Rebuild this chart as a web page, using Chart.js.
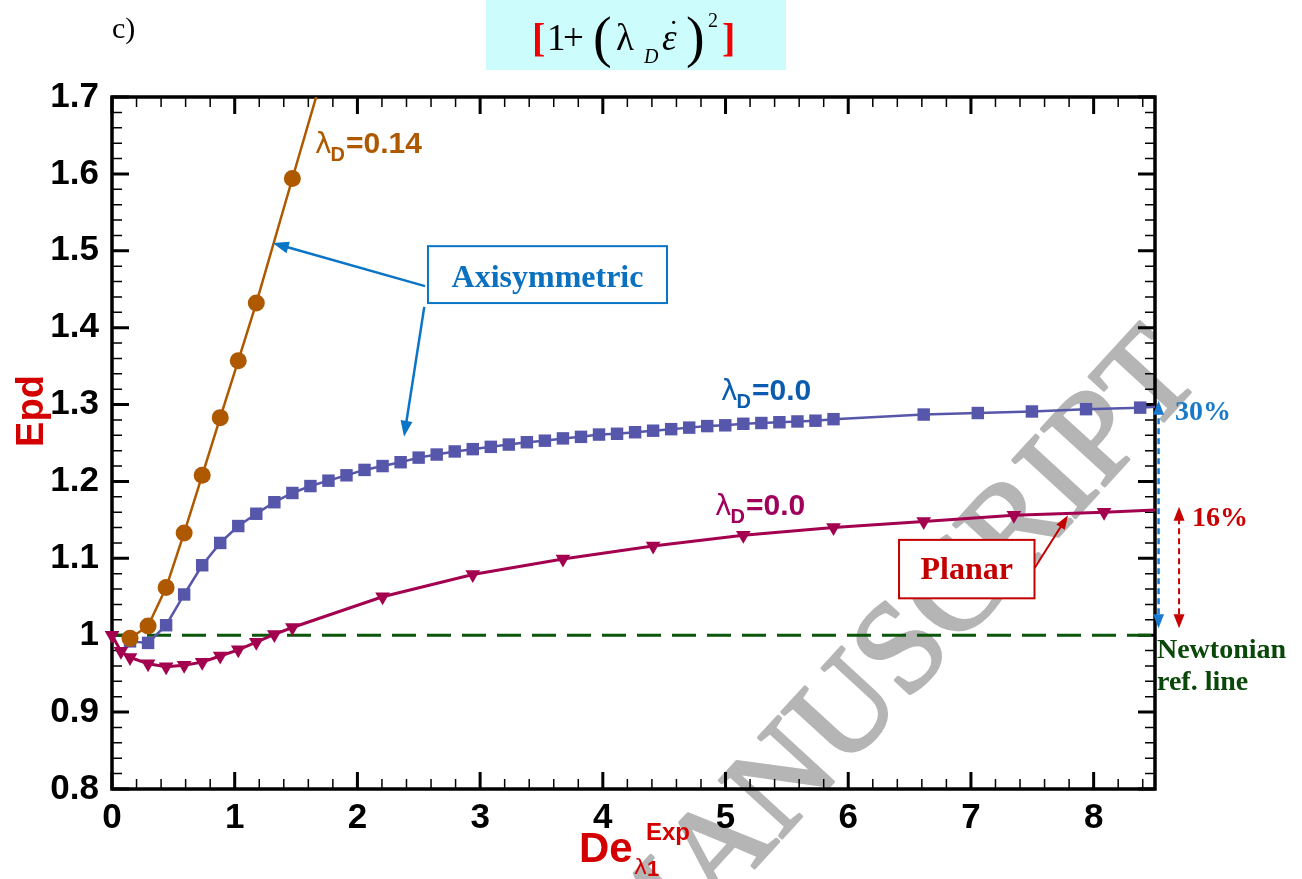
<!DOCTYPE html>
<html>
<head>
<meta charset="utf-8">
<title>Epd vs De</title>
<script src="https://cdn.jsdelivr.net/npm/chart.js@4.4.1/dist/chart.umd.min.js"></script>
<style>
  html, body { margin: 0; padding: 0; background: #fff; }
  #wrap { position: relative; width: 1302px; height: 879px; overflow: hidden; }
  #plot { position: absolute; left: 0; top: 0; }
</style>
</head>
<body>
<div id="wrap">
  <canvas id="plot" width="1302" height="879"></canvas>
</div>
<script>
/* ── axes ─────────────────────────────────────────────── */
const xMin = 0, xMax = 8.5;
const yMin = 0.8, yMax = 1.7;
const xTicks = [0, 1, 2, 3, 4, 5, 6, 7, 8];
const yTicks = [0.8, 0.9, 1.0, 1.1, 1.2, 1.3, 1.4, 1.5, 1.6, 1.7];

/* ── data ─────────────────────────────────────────────── */
// Newtonian reference
const refX = [0, 8.5];
const refY = [1, 1];

// Axisymmetric, lambda_D = 0.14 (circles) - last point runs off the top
const axi14X = [0.147, 0.294, 0.441, 0.588, 0.735, 0.882, 1.029, 1.176, 1.470, 1.764];
const axi14Y = [0.996, 1.012, 1.062, 1.133, 1.208, 1.283, 1.357, 1.432, 1.594, 1.755];

// Axisymmetric, lambda_D = 0.0 (squares) - last value is the line end at the frame
const axi0X = [0.147, 0.294, 0.441, 0.588, 0.735, 0.882, 1.029, 1.176, 1.323, 1.470,
               1.617, 1.764, 1.911, 2.058, 2.205, 2.352, 2.499, 2.646, 2.793, 2.940,
               3.087, 3.234, 3.381, 3.528, 3.675, 3.822, 3.969, 4.116, 4.263, 4.410,
               4.557, 4.704, 4.851, 4.998, 5.145, 5.292, 5.439, 5.586, 5.733, 5.880,
               6.615, 7.056, 7.497, 7.938, 8.379, 8.500];
const axi0Y = [0.992, 0.990, 1.013, 1.053, 1.091, 1.120, 1.142, 1.158, 1.173, 1.185,
               1.194, 1.201, 1.208, 1.215, 1.220, 1.225, 1.231, 1.235, 1.239, 1.242,
               1.245, 1.248, 1.251, 1.253, 1.256, 1.258, 1.261, 1.262, 1.264, 1.266,
               1.268, 1.270, 1.272, 1.273, 1.275, 1.276, 1.277, 1.278, 1.279, 1.281,
               1.287, 1.289, 1.291, 1.294, 1.296, 1.297];

// Planar, lambda_D = 0.0 (down triangles) - last value is the line end at the frame
const pla0X = [0, 0.073, 0.147, 0.294, 0.441, 0.588, 0.735, 0.882, 1.029, 1.176, 1.323,
               1.470, 2.205, 2.940, 3.675, 4.410, 5.145, 5.880, 6.615, 7.350, 8.085, 8.500];
const pla0Y = [1.000, 0.979, 0.971, 0.963, 0.959, 0.961, 0.965, 0.973, 0.981, 0.991, 1.001,
               1.010, 1.050, 1.079, 1.099, 1.116, 1.130, 1.140, 1.148, 1.156, 1.160, 1.163];

const pts = (xs, ys) => xs.map((x, i) => ({ x, y: ys[i] }));
// no marker on the end-of-line values sitting on the right frame
const markerSize = (r) => (c) => (c.raw && c.raw.x >= xMax ? 0 : r);

const SANS = '"Liberation Sans", Arial, sans-serif';
const SERIF = '"Liberation Serif", "Times New Roman", serif';

/* ── helpers ──────────────────────────────────────────── */
function arrowHead(ctx, x1, y1, x2, y2, len, half, color) {
  const ang = Math.atan2(y2 - y1, x2 - x1);
  ctx.save();
  ctx.fillStyle = color;
  ctx.translate(x2, y2);
  ctx.rotate(ang);
  ctx.beginPath();
  ctx.moveTo(0, 0);
  ctx.lineTo(-len, -half);
  ctx.lineTo(-len, half);
  ctx.closePath();
  ctx.fill();
  ctx.restore();
}

function arrow(ctx, x1, y1, x2, y2, o) {
  const ang = Math.atan2(y2 - y1, x2 - x1);
  ctx.save();
  ctx.strokeStyle = o.color;
  ctx.lineWidth = o.width;
  if (o.dash) ctx.setLineDash(o.dash);
  ctx.beginPath();
  ctx.moveTo(o.both ? x1 + Math.cos(ang) * o.len : x1, o.both ? y1 + Math.sin(ang) * o.len : y1);
  ctx.lineTo(x2 - Math.cos(ang) * o.len * 0.8, y2 - Math.sin(ang) * o.len * 0.8);
  ctx.stroke();
  ctx.restore();
  arrowHead(ctx, x1, y1, x2, y2, o.len, o.half, o.color);
  if (o.both) arrowHead(ctx, x2, y2, x1, y1, o.len, o.half, o.color);
}

function lambdaLabel(ctx, px, py, value, color) {
  ctx.save();
  ctx.fillStyle = color;
  ctx.textAlign = 'left';
  ctx.textBaseline = 'alphabetic';
  ctx.font = '28px "DejaVu Sans", sans-serif';
  ctx.fillText('λ', px, py);
  let w = ctx.measureText('λ').width;
  ctx.font = 'bold 20px ' + SANS;
  ctx.fillText('D', px + w - 1, py + 8);
  w += ctx.measureText('D').width;
  ctx.font = 'bold 30px ' + SANS;
  ctx.fillText('=' + value, px + w, py);
  ctx.restore();
}

function boxLabel(ctx, x1, y1, x2, y2, text, tx, ty, color, border) {
  ctx.save();
  ctx.fillStyle = '#fff';
  ctx.fillRect(x1, y1, x2 - x1, y2 - y1);
  ctx.strokeStyle = border;
  ctx.lineWidth = 2;
  ctx.strokeRect(x1, y1, x2 - x1, y2 - y1);
  ctx.fillStyle = color;
  ctx.font = 'bold 32px ' + SERIF;
  ctx.textAlign = 'center';
  ctx.fillText(text, tx, ty);
  ctx.restore();
}

/* ── plugins ──────────────────────────────────────────── */
const watermark = {
  id: 'watermark',
  beforeDraw(chart) {
    const ctx = chart.ctx;
    ctx.save();
    ctx.fillStyle = '#b5b5b5';
    ctx.strokeStyle = '#b5b5b5';
    ctx.lineWidth = 3;
    ctx.lineJoin = 'round';
    ctx.font = '130px ' + SERIF;
    ctx.translate(716, 910);
    ctx.rotate(-47.5 * Math.PI / 180);
    ctx.textAlign = 'right';
    ctx.fillText('M', 0, 0);
    ctx.strokeText('M', 0, 0);
    ctx.textAlign = 'left';
    ctx.fillText('ANUSCRIPT', 0, 0);
    ctx.strokeText('ANUSCRIPT', 0, 0);
    ctx.restore();
  }
};

const frame = {
  id: 'frame',
  beforeDatasetsDraw(chart) {
    const { ctx, chartArea: a, scales: { x, y } } = chart;
    ctx.save();
    ctx.strokeStyle = '#000';
    ctx.lineCap = 'butt';
    const vTick = (px, len) => {
      ctx.beginPath();
      ctx.moveTo(px, a.bottom); ctx.lineTo(px, a.bottom - len);
      ctx.moveTo(px, a.top); ctx.lineTo(px, a.top + len);
      ctx.stroke();
    };
    const hTick = (py, len) => {
      ctx.beginPath();
      ctx.moveTo(a.left, py); ctx.lineTo(a.left + len, py);
      ctx.moveTo(a.right, py); ctx.lineTo(a.right - len, py);
      ctx.stroke();
    };
    ctx.lineWidth = 1.5;
    for (let i = 0; i <= 42; i++) vTick(x.getPixelForValue(i * 0.2), 10);
    for (let i = 0; i <= 45; i++) hTick(y.getPixelForValue(yMin + i * 0.02), 10);
    ctx.lineWidth = 3;
    xTicks.forEach(v => vTick(x.getPixelForValue(v), 17));
    yTicks.forEach(v => hTick(y.getPixelForValue(v), 17));
    ctx.lineWidth = 3.5;
    ctx.strokeRect(a.left, a.top, a.right - a.left, a.bottom - a.top);
    ctx.restore();
  }
};

const notes = {
  id: 'notes',
  afterDatasetsDraw(chart) {
    const { ctx, scales: { x, y } } = chart;
    const X = v => x.getPixelForValue(v);
    const Y = v => y.getPixelForValue(v);

    // curve labels
    lambdaLabel(ctx, X(1.654), Y(1.627), '0.14', '#ae5800');
    lambdaLabel(ctx, X(4.963), Y(1.306), '0.0', '#0b5cae');
    lambdaLabel(ctx, X(4.914), Y(1.156), '0.0', '#a0005a');

    // Axisymmetric callout
    const blue = '#0a74c6';
    arrow(ctx, X(2.551), Y(1.454), X(1.310), Y(1.510), { color: blue, width: 2.5, len: 16, half: 6 });
    arrow(ctx, X(2.545), Y(1.427), X(2.380), Y(1.258), { color: blue, width: 2.5, len: 16, half: 6 });
    boxLabel(ctx, X(2.575), Y(1.506), X(4.523), Y(1.432), 'Axisymmetric', X(3.549), Y(1.453), '#0a70c0', blue);

    // Planar callout
    const red = '#c40000';
    arrow(ctx, X(7.518), Y(1.087), X(7.791), Y(1.156), { color: red, width: 2, len: 14, half: 5 });
    boxLabel(ctx, X(6.414), Y(1.124), X(7.518), Y(1.048), 'Planar', X(6.966), Y(1.073), red, red);

    // percentage arrows on the right
    arrow(ctx, X(8.529), Y(1.009), X(8.529), Y(1.305),
      { color: '#1a7ad0', width: 2.5, len: 14, half: 5.5, dash: [6, 4], both: true });
    arrow(ctx, X(8.696), Y(1.009), X(8.696), Y(1.167),
      { color: '#c80000', width: 2, len: 14, half: 5.5, dash: [6, 4], both: true });

    ctx.save();
    ctx.textAlign = 'left';
    ctx.font = 'bold 28px ' + SERIF;
    ctx.fillStyle = '#1a7ac8';
    ctx.fillText('30%', X(8.663), Y(1.280));
    ctx.fillStyle = '#c80000';
    ctx.fillText('16%', X(8.801), Y(1.142));
    ctx.fillStyle = '#0a480a';
    ctx.fillText('Newtonian', X(8.516), Y(0.970));
    ctx.fillText('ref. line', X(8.516), Y(0.929));
    ctx.restore();

    // axis titles
    ctx.save();
    ctx.fillStyle = '#d40000';
    ctx.translate(43, 411);
    ctx.rotate(-Math.PI / 2);
    ctx.textAlign = 'center';
    ctx.font = 'bold 38px ' + SANS;
    ctx.fillText('Epd', 0, 0);
    ctx.restore();

    ctx.save();
    ctx.fillStyle = '#d40000';
    ctx.textAlign = 'left';
    ctx.font = 'bold 42px ' + SANS;
    ctx.fillText('De', 579, 862);
    ctx.font = 'bold 24px ' + SANS;
    ctx.fillText('Exp', 646, 840);
    ctx.font = '22px "DejaVu Sans", sans-serif';
    ctx.fillText('λ', 634, 874);
    ctx.font = 'bold 22px ' + SANS;
    ctx.fillText('1', 647, 876);
    ctx.restore();
  },
  afterDraw(chart) {
    const ctx = chart.ctx;
    ctx.save();
    ctx.textAlign = 'left';
    ctx.textBaseline = 'alphabetic';
    // panel tag
    ctx.fillStyle = '#000';
    ctx.font = '30px ' + SERIF;
    ctx.fillText('c)', 112, 38);
    // damping-function formula box
    ctx.fillStyle = '#ccfcfc';
    ctx.fillRect(486, 0, 300, 70);
    ctx.fillStyle = '#f00000';
    ctx.font = 'bold 40px ' + SERIF;
    ctx.fillText('[', 532, 51);
    ctx.fillText(']', 722, 51);
    ctx.fillStyle = '#000';
    ctx.font = '37px ' + SERIF;
    ctx.fillText('1', 547, 50);
    ctx.fillText('+', 563, 50);
    ctx.fillText('λ', 616, 50);
    ctx.font = '56px ' + SERIF;
    ctx.fillText('(', 593, 56);
    ctx.fillText(')', 686, 56);
    ctx.font = 'italic 20px ' + SERIF;
    ctx.fillText('D', 644, 63);
    ctx.font = 'italic 37px ' + SERIF;
    ctx.fillText('ε', 662, 50);
    ctx.font = 'bold 22px ' + SERIF;
    ctx.fillText('˙', 670, 36);
    ctx.font = '20px ' + SERIF;
    ctx.fillText('2', 708, 27);
    ctx.restore();
  }
};

/* ── chart ────────────────────────────────────────────── */
const tickFont = { family: '"Liberation Sans", Arial, sans-serif', size: 35, weight: 'bold' };

new Chart(document.getElementById('plot'), {
  type: 'scatter',
  data: {
    datasets: [
      {
        label: 'Newtonian ref. line',
        data: pts(refX, refY),
        showLine: true,
        borderColor: '#0c560c',
        borderWidth: 3,
        borderDash: [24, 11],
        pointRadius: 0,
        order: 4,
      },
      {
        label: 'Axisymmetric, λD=0.0',
        data: pts(axi0X, axi0Y),
        showLine: true,
        borderColor: '#5656ab',
        borderWidth: 2.5,
        pointStyle: 'rect',
        pointRadius: markerSize(8.8),
        pointBackgroundColor: '#5656ab',
        pointBorderColor: '#5656ab',
        pointBorderWidth: 0,
        clip: false,
        order: 3,
      },
      {
        label: 'Axisymmetric, λD=0.14',
        data: pts(axi14X, axi14Y),
        showLine: true,
        borderColor: '#ae5800',
        borderWidth: 2.5,
        pointStyle: 'circle',
        pointRadius: 8.5,
        pointBackgroundColor: '#ae5800',
        pointBorderColor: '#ae5800',
        pointBorderWidth: 0,
        clip: 0,
        order: 2,
      },
      {
        label: 'Planar, λD=0.0',
        data: pts(pla0X, pla0Y),
        showLine: true,
        borderColor: '#a3004f',
        borderWidth: 3,
        pointStyle: 'triangle',
        rotation: 180,
        pointRotation: 180,
        pointRadius: markerSize(8.5),
        pointBackgroundColor: '#a3004f',
        pointBorderColor: '#a3004f',
        pointBorderWidth: 0,
        clip: false,
        order: 1,
      },
    ],
  },
  options: {
    responsive: false,
    animation: false,
    events: [],
    layout: { padding: { top: 97, right: 147, left: 0, bottom: 0 } },
    plugins: {
      legend: { display: false },
      tooltip: { enabled: false },
    },
    scales: {
      x: {
        type: 'linear',
        min: xMin,
        max: xMax,
        afterBuildTicks: (s) => { s.ticks = xTicks.map(v => ({ value: v })); },
        afterFit: (s) => { s.height = 90; },
        grid: { display: false, drawTicks: false },
        border: { display: false },
        ticks: { font: tickFont, color: '#000', padding: 8, maxRotation: 0, autoSkip: false },
      },
      y: {
        type: 'linear',
        min: yMin,
        max: yMax,
        afterBuildTicks: (s) => { s.ticks = yTicks.map(v => ({ value: v })); },
        afterFit: (s) => { s.width = 112; },
        grid: { display: false, drawTicks: false },
        border: { display: false },
        ticks: {
          font: tickFont,
          color: '#000',
          padding: 13,
          autoSkip: false,
          callback: (v) => String(+Number(v).toFixed(1)),
        },
      },
    },
  },
  plugins: [watermark, frame, notes],
});
</script>
</body>
</html>
